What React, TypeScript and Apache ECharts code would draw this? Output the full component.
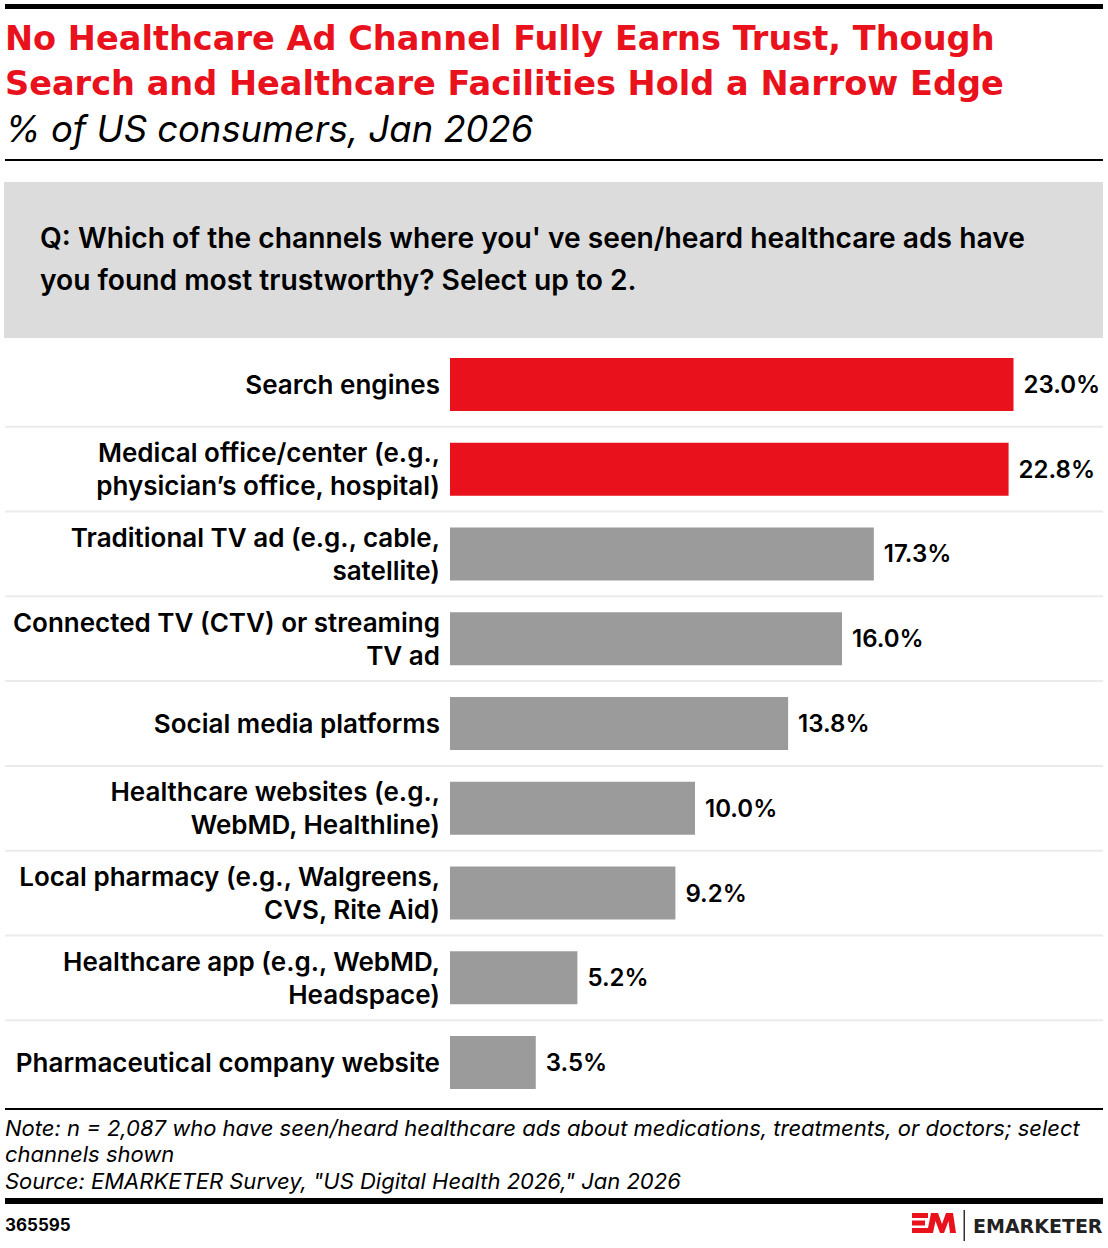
import React, { useEffect, useRef } from "react";
import * as echarts from "echarts";

const categories = [
  "Search engines",
  "Medical office/center (e.g.,\nphysician’s office, hospital)",
  "Traditional TV ad (e.g., cable,\nsatellite)",
  "Connected TV (CTV) or streaming\nTV ad",
  "Social media platforms",
  "Healthcare websites (e.g.,\nWebMD, Healthline)",
  "Local pharmacy (e.g., Walgreens,\nCVS, Rite Aid)",
  "Healthcare app (e.g., WebMD,\nHeadspace)",
  "Pharmaceutical company website",
];
const values = [23.0, 22.8, 17.3, 16.0, 13.8, 10.0, 9.2, 5.2, 3.5];
const highlightedCount = 2;

const titleLines = [
  "No Healthcare Ad Channel Fully Earns Trust, Though",
  "Search and Healthcare Facilities Hold a Narrow Edge",
];
const subtitle = "% of US consumers, Jan 2026";
const questionLines = [
  "Q: Which of the channels where you' ve seen/heard healthcare ads have",
  "you found most trustworthy? Select up to 2.",
];
const noteLines = [
  "Note: n = 2,087 who have seen/heard healthcare ads about medications, treatments, or doctors; select",
  "channels shown",
  'Source: EMARKETER Survey, "US Digital Health 2026," Jan 2026',
];
const chartId = "365595";

const RED = "#e8111c";
const GRAY = "#9b9b9b";
const FONT = "Inter, 'Noto Sans', sans-serif";
const WIDE = "'DejaVu Sans', Inter, sans-serif";
const W = 1108;
const H = 1248;

export default function App() {
  const ref = useRef<HTMLDivElement>(null);
  useEffect(() => {
    if (!ref.current) return;
    const chart = echarts.init(ref.current, null, { renderer: "svg", width: W, height: H });

    const txt = (text: string, x: number, y: number, size: number, weight: any, color: string, style = "normal", family = FONT) => ({
      type: "text",
      x,
      y,
      silent: true,
      style: {
        text,
        fill: color,
        fontSize: size,
        fontWeight: weight,
        fontStyle: style,
        fontFamily: family,
        align: "left",
        verticalAlign: "middle",
      },
    });

    const staticGraphic: any[] = [
      { type: "rect", shape: { x: 5, y: 4, width: 1098, height: 5 }, style: { fill: "#000" } },
      txt(titleLines[0], 5, 38, 33.6, 700, RED, "normal", WIDE),
      txt(titleLines[1], 5, 83, 33.6, 700, RED, "normal", WIDE),
      txt(subtitle, 5, 129, 36.4, 400, "#000", "italic"),
      { type: "rect", shape: { x: 5, y: 159, width: 1098, height: 2 }, style: { fill: "#000" } },
      { type: "rect", shape: { x: 4, y: 182, width: 1099, height: 156 }, style: { fill: "#dcdcdc" } },
      txt(questionLines[0], 40, 238, 28.2, 600, "#000"),
      txt(questionLines[1], 40, 280, 28.2, 600, "#000"),
      { type: "rect", shape: { x: 5, y: 1108, width: 1098, height: 2 }, style: { fill: "#000" } },
      txt(noteLines[0], 5, 1128, 22, 400, "#000", "italic"),
      txt(noteLines[1], 5, 1154, 22, 400, "#000", "italic"),
      txt(noteLines[2], 5, 1181, 22, 400, "#000", "italic"),
      { type: "rect", shape: { x: 5, y: 1198, width: 1098, height: 6 }, style: { fill: "#000" } },
      txt(chartId, 5, 1225, 17, 700, "#000"),
      // logo
      { type: "rect", shape: { x: 912, y: 1213, width: 16, height: 5 }, style: { fill: RED } },
      { type: "rect", shape: { x: 912, y: 1220.5, width: 13, height: 5 }, style: { fill: RED } },
      { type: "rect", shape: { x: 912, y: 1228, width: 16, height: 5 }, style: { fill: RED } },
      {
        type: "polygon",
        shape: {
          points: [
            [927, 1233], [931, 1213], [938, 1213], [942, 1224], [946, 1213], [953, 1213],
            [956, 1233], [950, 1233], [948.5, 1221], [944, 1233], [940, 1233], [935.5, 1221], [933, 1233],
          ],
        },
        style: { fill: RED },
      },
      { type: "rect", shape: { x: 963.5, y: 1210, width: 1.5, height: 31 }, style: { fill: "#333" } },
      txt("EMARKETER", 973, 1226, 19, 700, "#222", "normal", WIDE),
    ];

    chart.setOption({
      animation: false,
      grid: { left: 450, right: 21, top: 342, bottom: 143, containLabel: false },
      xAxis: { type: "value", min: 0, max: 26, show: false },
      yAxis: {
        type: "category",
        inverse: true,
        data: categories,
        axisLine: { show: false },
        axisTick: { show: false },
        splitLine: { show: false },
        axisLabel: {
          margin: 10,
          color: "#000",
          fontSize: 26,
          fontWeight: 600,
          fontFamily: FONT,
          lineHeight: 33,
          align: "right",
        },
      },
      series: [
        {
          type: "bar",
          data: values,
          barWidth: 53,
          itemStyle: { color: (p: any) => (p.dataIndex < highlightedCount ? RED : GRAY) },
          label: {
            show: true,
            position: "right",
            distance: 10,
            color: "#000",
            fontSize: 24,
            fontWeight: 600,
            fontFamily: FONT,
            formatter: (p: any) => p.value.toFixed(1) + "%",
          },
        },
      ],
      graphic: { elements: staticGraphic },
    });

    const seps: any[] = [];
    for (let i = 0; i < categories.length - 1; i++) {
      const a = chart.convertToPixel({ yAxisIndex: 0 }, categories[i]) as number;
      const b = chart.convertToPixel({ yAxisIndex: 0 }, categories[i + 1]) as number;
      const y = (a + b) / 2;
      seps.push({ type: "rect", shape: { x: 5, y: y - 1, width: 1098, height: 2 }, style: { fill: "#ebebeb" }, silent: true });
    }
    chart.setOption({ graphic: { elements: [...staticGraphic, ...seps] } });

    return () => chart.dispose();
  }, []);
  return <div ref={ref} style={{ position: "absolute", left: 0, top: 0, width: W, height: H }} />;
}
